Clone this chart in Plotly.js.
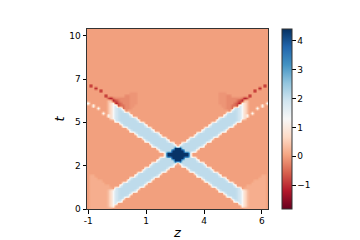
<!DOCTYPE html>
<html>
<head>
<meta charset="utf-8">
<script src="https://cdn.plot.ly/plotly-3.0.1.min.js"></script>
<style>html, body { margin: 0; padding: 0; background: #fff; }</style>
</head>
<body>
<div id="myChart" style="width:360px;height:240px"></div>
<script>
// one character per level of the field
const levelKeys = ['r', 'm', 'n', 'g', 'h', 'o', 'f', 'q', 'p', 'w', 'c', 'd', 'b', 'D'];
const levelVals = [-1.2, -0.75, -0.45, -0.2, -0.1, 0, 0.15, 0.35, 0.7, 1.29, 1.85, 2.0, 2.1, 4.35];

// field rows from the top (t ~ 10.7) down to t ~ 0.1, run-length coded: level char + count
// 73 cells per row, z from -1 to 6.2
const fieldRows = [
	'o73', 'o73', 'o73', 'o73', 'o73', 'o73', 'o73', 'o73', 'o73', 'o73', 'o73',
	'o73', 'o73', 'o73', 'o73', 'o73', 'o73', 'o73', 'o73', 'o73', 'o73', 'o73',
	'o1 r1 o69 r1 o1',
	'o3 r1 o65 r1 o3',
	'o5 r1 o61 r1 o5',
	'o17 h3 o33 h3 o17',
	'o7 r1 o7 g2 h3 o33 h3 g2 o7 r1 o7',
	'o8 m1 r1 n1 g6 h3 o33 h3 g6 n1 r1 m1 o8',
	'o8 q2 r1 m1 n1 g4 h3 o33 h3 g4 n1 m1 r1 q2 o8',
	'w1 o7 q1 p1 w1 r1 m1 n1 g3 h3 o33 h3 g3 n1 m1 r1 w1 p1 q1 o7 w1',
	'o2 w1 o5 q1 p1 w1 c1 m1 n2 g2 h2 o35 h2 g2 n2 m1 c1 w1 p1 q1 o5 w1 o2',
	'o4 w1 o3 q1 p1 w1 c1 d1 c1 n1 g2 h1 o37 h1 g2 n1 c1 d1 c1 w1 p1 q1 o3 w1 o4',
	'o8 q1 p1 w1 c1 d1 b1 c1 g1 o41 g1 c1 b1 d1 c1 w1 p1 q1 o8',
	'o6 w1 o1 q1 p1 w1 c1 d1 b3 c1 o39 c1 b3 d1 c1 w1 p1 q1 o1 w1 o6',
	'o8 w1 p1 w1 c1 d1 b4 c1 o37 c1 b4 d1 c1 w1 p1 w1 o8',
	'o9 p1 w1 c1 d1 b6 c1 o33 c1 b6 d1 c1 w1 p1 o9',
	'o11 c1 d1 b7 c1 o31 c1 b7 d1 c1 o11',
	'o13 c1 b8 c1 o27 c1 b8 c1 o13',
	'o14 c1 b8 c1 o25 c1 b8 c1 o14',
	'o16 c1 b8 c1 o21 c1 b8 c1 o16',
	'o17 c1 b8 c1 o19 c1 b8 c1 o17',
	'o19 c1 b8 c1 o15 c1 b8 c1 o19',
	'o20 c1 b8 c1 o13 c1 b8 c1 o20',
	'o22 c1 b8 c1 o9 c1 b8 c1 o22',
	'o23 c1 b8 c1 o7 c1 b8 c1 o23',
	'o25 c1 b8 c1 o3 c1 b8 c1 o25',
	'o26 c1 b8 c1 o1 c1 b8 c1 o26',
	'o28 c1 b6 D3 b6 c1 o28',
	'o29 c1 b4 D5 b4 c1 o29',
	'o31 c1 D9 c1 o31',
	'o31 c1 D9 c1 o31',
	'o29 c1 b4 D5 b4 c1 o29',
	'o28 c1 b6 D3 b6 c1 o28',
	'o26 c1 b8 c1 o1 c1 b8 c1 o26',
	'o25 c1 b8 c1 o3 c1 b8 c1 o25',
	'o23 c1 b8 c1 o7 c1 b8 c1 o23',
	'o22 c1 b8 c1 o9 c1 b8 c1 o22',
	'o20 c1 b8 c1 o13 c1 b8 c1 o20',
	'o1 f2 o16 c1 b8 c1 o15 c1 b8 c1 o16 f2 o1',
	'o1 f3 o13 c1 b8 c1 o19 c1 b8 c1 o13 f3 o1',
	'o1 f5 o10 c1 b8 c1 o21 c1 b8 c1 o10 f5 o1',
	'o1 f6 o7 c1 b8 c1 o25 c1 b8 c1 o7 f6 o1',
	'o1 f8 o4 c1 b8 c1 o27 c1 b8 c1 o4 f8 o1',
	'o1 f9 o1 c1 d1 b7 c1 o31 c1 b7 d1 c1 o1 f9 o1',
	'o1 f7 q1 p1 w1 c1 d1 b6 c1 o33 c1 b6 d1 c1 w1 p1 q1 f7 o1',
	'o1 f7 q1 p1 w1 c1 d1 b4 c1 o37 c1 b4 d1 c1 w1 p1 q1 f7 o1',
	'o1 f7 q1 p1 w1 c1 d1 b3 c1 o39 c1 b3 d1 c1 w1 p1 q1 f7 o1',
	'o1 f7 q1 p1 w1 c1 d1 b1 c1 o43 c1 b1 d1 c1 w1 p1 q1 f7 o1',
	'o1 f7 q1 p1 w1 c1 d1 c1 o45 c1 d1 c1 w1 p1 q1 f7 o1',
	'o1 f7 q1 p1 w1 c1 o49 c1 w1 p1 q1 f7 o1',
	'o1 f7 q1 p1 w1 o51 w1 p1 q1 f7 o1',
	'o1 f9 o53 f9 o1'
];

const xTickVals = [-1, 1.33, 3.67, 6];
const xTickText = ['-1', '1', '4', '6'];
const yTickVals = [0, 2.6, 5.2, 7.8, 10.4];
const yTickText = ['0', '2', '5', '7', '10'];
const cbarTicks = [-1, 0, 1, 2, 3, 4];
const zRange = [-1.82, 4.40];

// matplotlib RdBu
const rdbu = [
	[0.0, '#67001f'], [0.1, '#b2182b'], [0.2, '#d6604d'], [0.3, '#f4a582'],
	[0.4, '#fddbc7'], [0.5, '#f7f7f7'], [0.6, '#d1e5f0'], [0.7, '#92c5de'],
	[0.8, '#4393c3'], [0.9, '#2166ac'], [1.0, '#053061']
];

function decodeRow(row) {
	const out = [];
	row.split(' ').forEach(tok => {
		const v = levelVals[levelKeys.indexOf(tok[0])];
		const n = parseInt(tok.slice(1), 10);
		for (let i = 0; i < n; i++) out.push(v);
	});
	return out;
}

// plotly wants the bottom row first
const z = fieldRows.map(decodeRow).reverse();

const trace = {
	type: 'heatmap',
	z: z,
	x0: -1, dx: 0.1,
	y0: 0.075, dy: 0.15,
	zmin: zRange[0], zmax: zRange[1],
	colorscale: rdbu,
	zsmooth: 'best',
	hoverinfo: 'skip',
	colorbar: {
		thickness: 10, len: 1, lenmode: 'fraction',
		x: 1.076, xanchor: 'left', xpad: 0,
		y: 0.5, yanchor: 'middle', ypad: 0,
		outlinewidth: 1, outlinecolor: '#333',
		tickvals: cbarTicks, ticks: 'outside', ticklen: 3.5, tickcolor: '#000',
		tickfont: { size: 9, color: '#000' }
	}
};

const axisStyle = {
	ticks: 'outside', ticklen: 3.5, tickwidth: 1, tickcolor: '#000',
	showline: true, mirror: true, linecolor: '#333', linewidth: 1,
	showgrid: false, zeroline: false,
	tickfont: { size: 9, color: '#000' }
};

const layout = {
	width: 360, height: 240,
	margin: { l: 87, r: 92, t: 29, b: 31 },
	paper_bgcolor: '#fff', plot_bgcolor: '#fff',
	font: { family: 'DejaVu Sans, sans-serif', size: 9, color: '#000' },
	xaxis: Object.assign({}, axisStyle, {
		range: [-1.05, 6.25],
		tickvals: xTickVals, ticktext: xTickText,
		title: { text: '<i>z</i>', font: { size: 13 }, standoff: 5 }
	}),
	yaxis: Object.assign({}, axisStyle, {
		range: [0, 10.8],
		tickvals: yTickVals, ticktext: yTickText,
		title: { text: '<i>t</i>', font: { size: 13 }, standoff: 1 }
	})
};

Plotly.newPlot('myChart', [trace], layout, { displayModeBar: false, staticPlot: true });
</script>
</body>
</html>
